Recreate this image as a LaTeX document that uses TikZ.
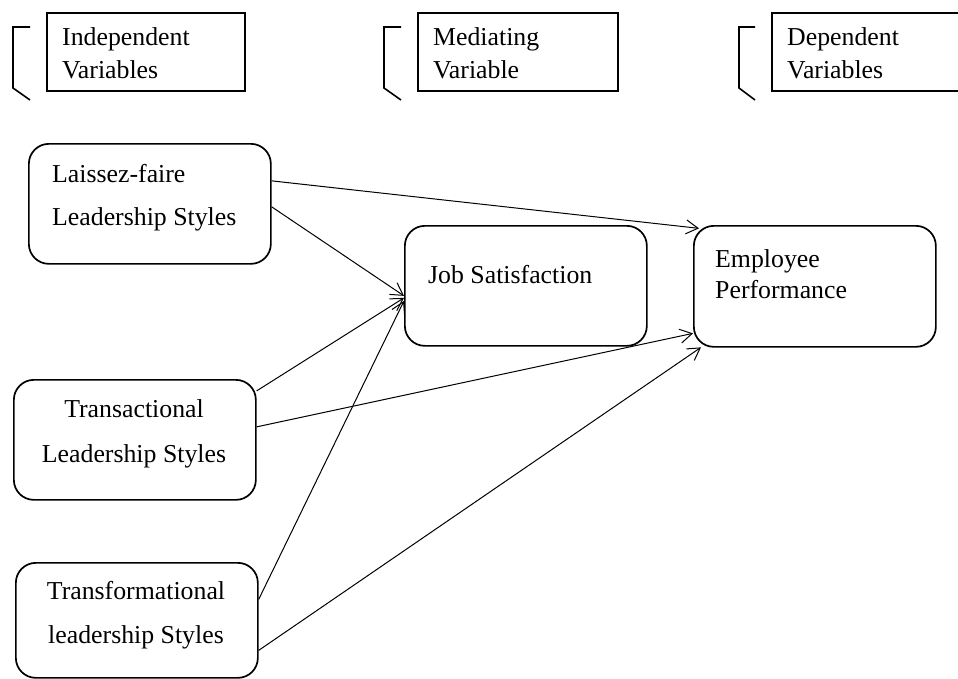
\documentclass[tikz,border=0pt]{standalone}
\usepackage{fontspec}
\setmainfont{Liberation Serif}
\usetikzlibrary{arrows.meta}
\begin{document}
\begin{tikzpicture}[x=1pt,y=-1pt,
  hbox/.style={draw, line width=1.7pt, inner sep=0pt, anchor=north west, minimum width=200pt, minimum height=78pt},
  rbox/.style={draw, line width=1.7pt, inner sep=0pt, anchor=north west, rounded corners=20pt, minimum width=242pt, minimum height=120pt},
  txt/.style={inner sep=0pt, font=\fontsize{25.8}{30}\selectfont},
  brk/.style={line width=1.6pt},
  arr/.style={line width=1pt, -{Straight Barb[length=12pt,width=14pt,line width=1pt]}}]
\useasboundingbox (0,0) rectangle (958,678);
\clip (0,0) rectangle (958,678);
% header brackets
\draw[brk] (30,27) -- (13,27) -- (13,88) -- (30,100);
\draw[brk] (401,27) -- (384,27) -- (384,88) -- (401,100);
\draw[brk] (755,27) -- (739,27) -- (739,88) -- (755,100);
% header boxes
\node[hbox, minimum width=198pt] (hI) at (46,12) {};
\node[hbox] (hM) at (417,12) {};
\node[hbox] (hD) at (771,12) {};
\node[txt, anchor=base west] (hI1) at (62,45) {Independent};
\node[txt, anchor=base west] (hI2) at (62,78) {Variables};
\node[txt, anchor=base west] (hM1) at (433,45) {Mediating};
\node[txt, anchor=base west] (hM2) at (433,78) {Variable};
\node[txt, anchor=base west] (hD1) at (787,45) {Dependent};
\node[txt, anchor=base west] (hD2) at (787,78) {Variables};
% main boxes
\node[rbox] (lf) at (28,143) {};
\node[rbox] (js) at (404,225) {};
\node[rbox, minimum height=121pt] (ep) at (693,225) {};
\node[rbox] (ta) at (13,379) {};
\node[rbox, minimum height=115pt] (tf) at (15,562) {};
\node[txt, anchor=base west] (lf1) at (52,182) {Laissez-faire};
\node[txt, anchor=base west] (lf2) at (52,225) {Leadership Styles};
\node[txt, anchor=base west] (js1) at (428,283) {Job Satisfaction};
\node[txt, anchor=base west] (ep1) at (715,267) {Employee};
\node[txt, anchor=base west] (ep2) at (715,298) {Performance};
\node[txt, anchor=base] (ta1) at (134,417) {Transactional};
\node[txt, anchor=base] (ta2) at (134,462) {Leadership Styles};
\node[txt, anchor=base] (tf1) at (136,599) {Transformational};
\node[txt, anchor=base] (tf2) at (136,643) {leadership Styles};
% connectors
\draw[arr] ([yshift=23pt]lf.east) -- ([xshift=6pt,yshift=58pt]ep.west);
\draw[arr] ([yshift=-3pt]lf.east) -- ([yshift=-10pt]js.west);
\draw[arr] ([yshift=49pt]ta.east) -- ([yshift=-12pt]js.west);
\draw[arr] ([yshift=13pt]ta.east) -- ([yshift=-47pt]ep.west);
\draw[arr] ([yshift=21pt]tf.east) -- ([yshift=-15pt]js.west);
\draw[arr] ([yshift=-30pt]tf.east) -- ([xshift=8pt,yshift=-61pt]ep.west);
\end{tikzpicture}
\end{document}
